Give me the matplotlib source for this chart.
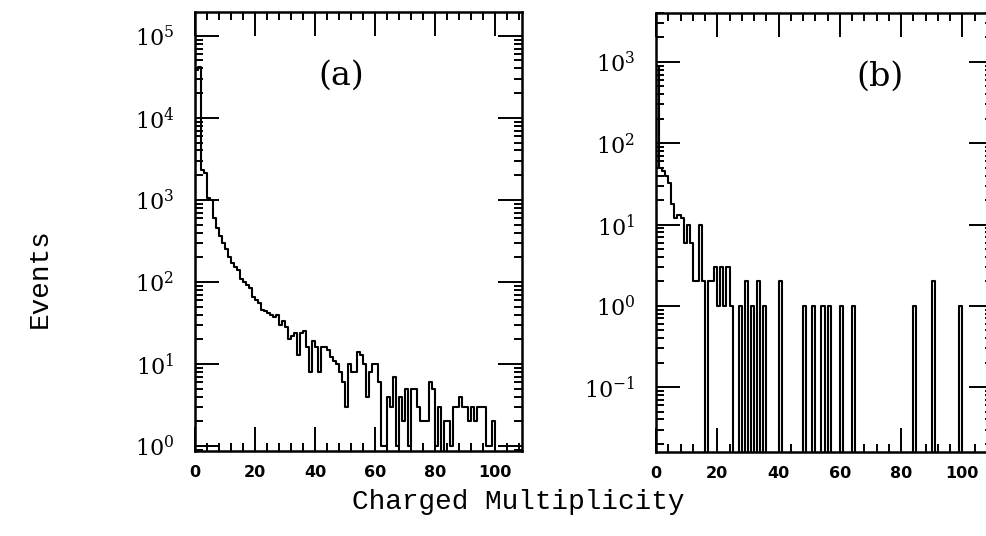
import numpy as np
import matplotlib.pyplot as plt
from matplotlib.ticker import FixedLocator, MultipleLocator, LogLocator, FuncFormatter, NullFormatter

plt.rcParams['mathtext.fontset'] = 'dejavuserif'

# events per unit bin of charged multiplicity, bin n covers [n, n+1)
counts_a = [38000, 42000, 2300, 2100, 1050, 1000, 600, 450, 360, 300,
            250, 200, 170, 150, 140, 110, 100, 92, 85, 65,
            60, 55, 46, 44, 42, 40, 37, 40, 30, 33,
            28, 20, 22, 24, 13, 24, 25, 16, 8, 19,
            16, 8, 16, 16, 15, 12, 11, 10, 8, 6,
            3, 10, 8, 8, 14, 13, 10, 4, 8, 10,
            10, 6, 1, 1, 4, 3, 7, 1, 4, 2,
            5, 1, 5, 5, 3, 2, 2, 2, 6, 5,
            1, 3, 0, 2, 2, 1, 3, 3, 4, 3,
            3, 2, 3, 2, 3, 3, 3, 1, 1, 2,
            0]
counts_b = [900, 50, 45, 40, 32, 18, 12, 13, 12, 6,
            10, 6, 2, 2, 10, 2, 0, 2, 2, 3,
            1, 3, 1, 3, 1, 0, 0, 1, 0, 2,
            0, 1, 0, 2, 0, 1, 0, 0, 0, 0,
            2, 0, 0, 0, 0, 0, 0, 0, 1, 0,
            0, 1, 0, 0, 1, 0, 1, 0, 0, 0,
            1, 0, 0, 0, 1, 0, 0, 0, 0, 0,
            0, 0, 0, 0, 0, 0, 0, 0, 0, 0,
            0, 0, 0, 0, 1, 0, 0, 0, 0, 0,
            2, 0, 0, 0, 0, 0, 0, 0, 0, 1,
            0]
# small box near one event at low multiplicity in panel (a)
box_a = [1, 1, 1, 1, 1, 1, 1, 1, 0]

xticks = [0, 20, 40, 60, 80, 100]
decades_a = [0, 1, 2, 3, 4, 5]
decades_b = [-1, 0, 1, 2, 3]

fig = plt.figure(figsize=(9.86, 5.36), dpi=100)
ax_a = fig.add_axes([195/986, 85/536, 327/986, 439/536])
ax_b = fig.add_axes([656/986, 84/536, 337/986, 439/536])


def draw_hist(ax, counts, lw=1.5):
    c = np.asarray(counts, dtype=float)
    c = np.where(c > 0, c, 1e-6)
    edges = np.arange(len(c) + 1)
    ax.step(edges, np.append(c, c[-1]), where='post', color='black', lw=lw)
    ax.plot([0, 0], [1e-6, c[0]], color='black', lw=lw)


def style(ax, decades, ylim, xmax, tag, tag_x):
    ax.set_yscale('log')
    ax.set_ylim(*ylim)
    ax.set_xlim(0, xmax)
    ax.xaxis.set_major_locator(FixedLocator(xticks))
    ax.xaxis.set_minor_locator(MultipleLocator(4))
    ax.yaxis.set_major_locator(FixedLocator([10.0**d for d in decades]))
    ax.yaxis.set_minor_locator(LogLocator(base=10, subs=np.arange(2, 10), numticks=20))
    ax.yaxis.set_minor_formatter(NullFormatter())
    ax.yaxis.set_major_formatter(FuncFormatter(lambda v, p: r'$10^{%d}$' % round(np.log10(v))))
    ax.tick_params(which='both', direction='in', top=True, right=True, width=1.4, color='black')
    ax.tick_params(which='major', length=17)
    ax.tick_params(which='minor', length=5.5)
    ax.tick_params(axis='x', pad=10)
    ax.tick_params(axis='y', pad=15, labelsize=16)
    for lab in ax.get_xticklabels():
        lab.set_fontweight('bold')
        lab.set_fontsize(11.5)
        lab.set_fontfamily('DejaVu Sans')
    for sp in ax.spines.values():
        sp.set_linewidth(1.8)
    ax.text(tag_x, 0.854, tag, transform=ax.transAxes, ha='center', va='center',
            fontsize=24, family='DejaVu Serif')


draw_hist(ax_a, counts_a)
draw_hist(ax_a, box_a, lw=1.2)
style(ax_a, decades_a, (0.87, 1.95e5), 109, '(a)', 0.447)

draw_hist(ax_b, counts_b)
style(ax_b, decades_b, (0.0159, 4000), 110, '(b)', 0.665)

fig.text(40/986, 1 - 278/536, 'Events', rotation=90, ha='center', va='center',
         fontsize=20, family='Liberation Mono')
fig.text(518/986, 1 - 502/536, 'Charged Multiplicity', ha='center', va='center',
         fontsize=20, family='Liberation Mono')

fig.savefig('out.png', dpi=100)
